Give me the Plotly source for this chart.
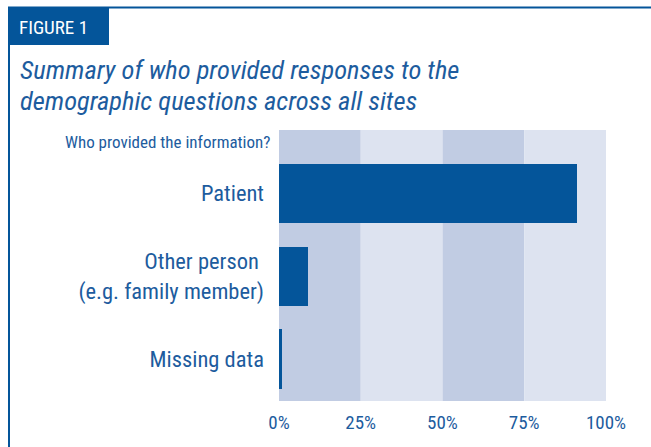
import plotly.graph_objects as go

categories = ["Patient", "Other person <br>(e.g. family member)", "Missing data"]
values = [91, 9, 1]
tick_vals = [0, 25, 50, 75, 100]
tick_text = ["0%", "25%", "50%", "75%", "100%"]
title_lines = ["Summary of who provided responses to the",
               "demographic questions across all sites"]

BLUE = "#04559a"
TEXT = "#1d5c9e"
DARK_BAND = "#c1cce3"
LIGHT_BAND = "#dde3f0"
FONT = "Liberation Sans Narrow, Roboto Condensed, Arial Narrow, Liberation Sans, sans-serif"

W, H = 651, 447
L, R, T, B = 279, 45, 130, 46
PW, PH = W - L - R, H - T - B


def px(x):
    return (x - L) / PW


def py(y):
    return (H - B - y) / PH


fig = go.Figure(go.Bar(
    x=values, y=categories, orientation="h",
    marker=dict(color=BLUE, line=dict(width=0)), width=0.72,
    hoverinfo="skip",
))

shapes = []
for i in range(4):
    shapes.append(dict(type="rect", xref="x", yref="paper",
                       x0=tick_vals[i], x1=tick_vals[i + 1], y0=0, y1=1,
                       fillcolor=DARK_BAND if i % 2 == 0 else LIGHT_BAND,
                       line=dict(width=0), layer="below"))
# frame
shapes.append(dict(type="line", xref="paper", yref="paper", x0=px(8), x1=px(660),
                   y0=py(7.5), y1=py(7.5), line=dict(color=BLUE, width=2)))
shapes.append(dict(type="line", xref="paper", yref="paper", x0=px(9), x1=px(9),
                   y0=py(7), y1=py(460), line=dict(color=BLUE, width=2)))
shapes.append(dict(type="rect", xref="paper", yref="paper", x0=px(8), x1=px(109),
                   y0=py(45), y1=py(7), fillcolor=BLUE, line=dict(width=0)))

annotations = [
    dict(text="FIGURE 1", xref="paper", yref="paper", x=px(17), y=py(27),
         xanchor="left", yanchor="middle", showarrow=False,
         font=dict(family=FONT, size=19, color="white")),
    dict(text="Who provided the information?", xref="paper", yref="paper",
         x=px(272), y=py(142), xanchor="right", yanchor="middle",
         showarrow=False, font=dict(family=FONT, size=17, color=TEXT)),
]
for line, yc in zip(title_lines, [70, 101]):
    annotations.append(dict(text="<i>" + line + "</i>", xref="paper", yref="paper",
                            x=px(18), y=py(yc), xanchor="left", yanchor="middle",
                            showarrow=False, font=dict(family=FONT, size=26.5, color=TEXT)))

fig.update_layout(
    width=W, height=H,
    margin=dict(l=L, r=R, t=T, b=B),
    paper_bgcolor="white", plot_bgcolor="white",
    showlegend=False, bargap=0,
    shapes=shapes, annotations=annotations,
    xaxis=dict(range=[0, 100], tickvals=tick_vals, ticktext=tick_text,
               showgrid=False, zeroline=False, showline=False, ticks="",
               tickfont=dict(family=FONT, size=19, color=TEXT), ticklabelstandoff=8),
    yaxis=dict(range=[2.51, -0.77], showgrid=False, zeroline=False, showline=False, ticks="",
               tickfont=dict(family=FONT, size=22.5, color=TEXT), ticklabelstandoff=14),
)

fig.write_html("out.html", config={"displayModeBar": False},
               post_script="document.body.style.margin='0';")
